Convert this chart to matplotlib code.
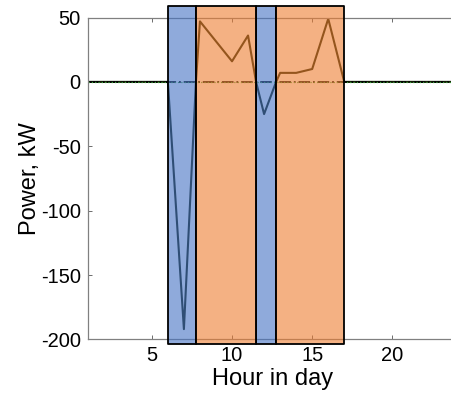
import numpy as np
import matplotlib
matplotlib.use("Agg")
import matplotlib.pyplot as plt
from matplotlib.colors import to_rgba

plt.rcParams["font.family"] = ["Liberation Sans", "DejaVu Sans"]

# ---- data ----
hours = [1, 6, 7, 7.75, 8, 10, 11, 11.5, 12, 12.75, 13, 14, 15, 16, 17, 24]
power = [0, 0, -192, 0, 47, 16, 36, 0, -25, 0, 7, 7, 10, 49, 0, 0]

discharge_periods = [(6, 7.75), (11.5, 12.75)]
charge_periods = [(7.75, 11.5), (12.75, 17)]

fig = plt.figure(figsize=(4.52, 4.07), dpi=100)
ax = fig.add_axes([0.194, 0.166, 0.816, 0.791])

# lines (drawn under the shaded periods)
ax.plot(hours, power, color="#101a00", linewidth=1.5, zorder=2)
ax.axhline(0, color="black", linestyle="-.", linewidth=1.3, zorder=2)
ax.axhline(0, color="#3aa03a", linestyle=":", linewidth=0.9, zorder=2.5)

# shaded periods, semi-transparent on top of the lines
y_lo, y_hi = -203.5, 59.2
for (a, b) in discharge_periods:
    ax.fill_between([a, b], y_lo, y_hi, facecolor=to_rgba("#4472C4", 0.6),
                    edgecolor="black", linewidth=1.3, zorder=3, clip_on=False)
for (a, b) in charge_periods:
    ax.fill_between([a, b], y_lo, y_hi, facecolor=to_rgba("#ED7D31", 0.6),
                    edgecolor="black", linewidth=1.3, zorder=3, clip_on=False)

ax.set_xlim(1, 24)
ax.set_ylim(-200, 50)
ax.set_xticks([5, 10, 15, 20])
ax.set_yticks([50, 0, -50, -100, -150, -200])
ax.set_yticklabels(["50", "0", "-50", "-100", "-150", "-200"])
ax.tick_params(direction="in", length=3, width=0.6, color="#555555",
               labelsize=14.5, top=True, right=False, pad=5)
for s in ax.spines.values():
    s.set_color("#808080")
    s.set_linewidth(0.9)
ax.spines["right"].set_visible(False)

ax.set_xlabel("Hour in day", fontsize=17, labelpad=2)
ax.set_ylabel("Power, kW", fontsize=17, labelpad=0)

fig.savefig("out.png", dpi=100, facecolor="white")
